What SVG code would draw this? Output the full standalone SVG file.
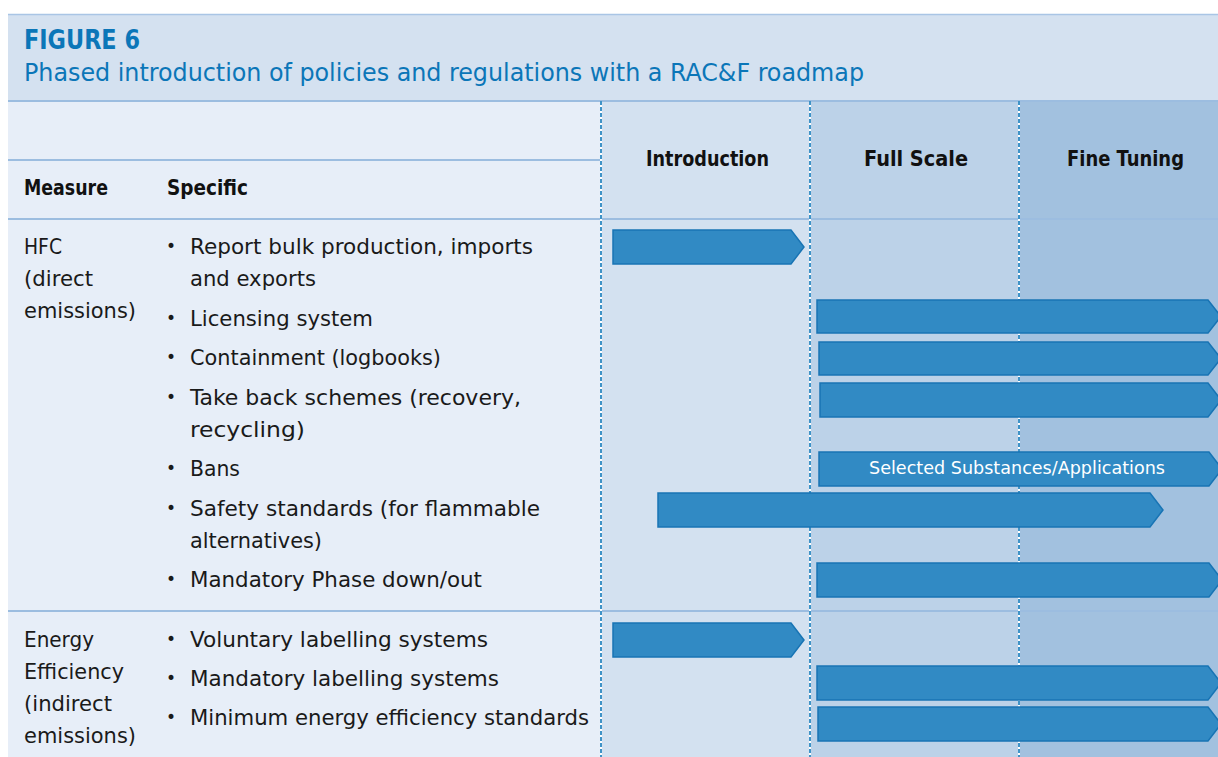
<svg xmlns="http://www.w3.org/2000/svg" width="1218" height="757" viewBox="0 0 1218 757">
<style>
.t{font-family:"DejaVu Sans Condensed","DejaVu Sans",sans-serif;font-size:20.5px;fill:#1a1a1a}
.b{font-weight:bold;fill:#111}
.ttl{font-family:"DejaVu Sans Condensed","DejaVu Sans",sans-serif;fill:#0b76b8}
.bul{font-family:"DejaVu Sans",sans-serif;font-size:17px;fill:#1a1a1a;text-anchor:middle}
.arr{fill:#318ac4;stroke:#1874b4;stroke-width:1.5;stroke-linejoin:miter}
.hl{stroke:#9cbde0;stroke-width:2;fill:none}
.vw{stroke:#ffffff;stroke-width:2}
.vd{stroke:#3f93c7;stroke-width:2;stroke-dasharray:4 2}
.ch{text-anchor:middle}
</style>
<rect width="1218" height="757" fill="#ffffff"/>
<g id="header">
<rect x="8" y="14" width="1210" height="87" fill="#d4e1f0"/>
<line x1="8" y1="14.5" x2="1218" y2="14.5" stroke="#a9c5e5" stroke-width="1.5"/>
<text class="ttl" x="24" y="49" font-size="27" font-weight="bold" textLength="116" lengthAdjust="spacingAndGlyphs">FIGURE 6</text>
<text class="ttl" x="24" y="81" font-size="24" textLength="840" lengthAdjust="spacingAndGlyphs">Phased introduction of policies and regulations with a RAC&amp;F roadmap</text>
</g>
<g id="background">
<rect x="8" y="101" width="593" height="656" fill="#e7eef8"/>
<rect x="601" y="101" width="209" height="656" fill="#d3e1f0"/>
<rect x="810" y="101" width="209" height="656" fill="#bcd2e8"/>
<rect x="1019" y="101" width="199" height="656" fill="#a2c1df"/>
</g>
<g id="gridlines">
<line class="hl" x1="8" y1="101" x2="1218" y2="101"/>
<line class="hl" x1="8" y1="160" x2="601" y2="160"/>
<line class="hl" x1="8" y1="219" x2="1218" y2="219"/>
<line class="hl" x1="8" y1="611" x2="1218" y2="611"/>
<line class="vw" x1="601" y1="101" x2="601" y2="757"/>
<line class="vd" x1="601" y1="101" x2="601" y2="757"/>
<line class="vw" x1="810" y1="101" x2="810" y2="757"/>
<line class="vd" x1="810" y1="101" x2="810" y2="757"/>
<line class="vw" x1="1019" y1="101" x2="1019" y2="757"/>
<line class="vd" x1="1019" y1="101" x2="1019" y2="757"/>
</g>
<g id="column-headers">
<text class="t b" x="24" y="195" textLength="84" lengthAdjust="spacingAndGlyphs">Measure</text>
<text class="t b" x="167" y="195" textLength="81" lengthAdjust="spacingAndGlyphs">Specific</text>
<text class="t b ch" x="707.5" y="166" textLength="123" lengthAdjust="spacingAndGlyphs">Introduction</text>
<text class="t b ch" x="916" y="166" textLength="104" lengthAdjust="spacingAndGlyphs">Full Scale</text>
<text class="t b ch" x="1125.5" y="166" textLength="117" lengthAdjust="spacingAndGlyphs">Fine Tuning</text>
</g>
<g id="measure-hfc">
<text class="t" x="24" y="254" textLength="38" lengthAdjust="spacingAndGlyphs">HFC</text>
<text class="t" x="24" y="286" textLength="69" lengthAdjust="spacingAndGlyphs">(direct</text>
<text class="t" x="24" y="318" textLength="112" lengthAdjust="spacingAndGlyphs">emissions)</text>
</g>
<g id="specific-hfc">
<text class="bul" x="171" y="252">•</text>
<text class="t" x="190" y="254" textLength="343" lengthAdjust="spacingAndGlyphs">Report bulk production, imports</text>
<text class="t" x="190" y="286" textLength="126" lengthAdjust="spacingAndGlyphs">and exports</text>
<text class="bul" x="171" y="324">•</text>
<text class="t" x="190" y="326" textLength="183" lengthAdjust="spacingAndGlyphs">Licensing system</text>
<text class="bul" x="171" y="363">•</text>
<text class="t" x="190" y="365" textLength="251" lengthAdjust="spacingAndGlyphs">Containment (logbooks)</text>
<text class="bul" x="171" y="403">•</text>
<text class="t" x="190" y="405" textLength="331" lengthAdjust="spacingAndGlyphs">Take back schemes (recovery,</text>
<text class="t" x="190" y="437" textLength="115" lengthAdjust="spacingAndGlyphs">recycling)</text>
<text class="bul" x="171" y="474">•</text>
<text class="t" x="190" y="476" textLength="50" lengthAdjust="spacingAndGlyphs">Bans</text>
<text class="bul" x="171" y="514">•</text>
<text class="t" x="190" y="516" textLength="350" lengthAdjust="spacingAndGlyphs">Safety standards (for flammable</text>
<text class="t" x="190" y="548" textLength="132" lengthAdjust="spacingAndGlyphs">alternatives)</text>
<text class="bul" x="171" y="585">•</text>
<text class="t" x="190" y="587" textLength="292" lengthAdjust="spacingAndGlyphs">Mandatory Phase down/out</text>
</g>
<g id="measure-energy">
<text class="t" x="24" y="647" textLength="70" lengthAdjust="spacingAndGlyphs">Energy</text>
<text class="t" x="24" y="679" textLength="100" lengthAdjust="spacingAndGlyphs">Efficiency</text>
<text class="t" x="24" y="711" textLength="88" lengthAdjust="spacingAndGlyphs">(indirect</text>
<text class="t" x="24" y="743" textLength="112" lengthAdjust="spacingAndGlyphs">emissions)</text>
</g>
<g id="specific-energy">
<text class="bul" x="171" y="645">•</text>
<text class="t" x="190" y="647" textLength="298" lengthAdjust="spacingAndGlyphs">Voluntary labelling systems</text>
<text class="bul" x="171" y="684">•</text>
<text class="t" x="190" y="686" textLength="309" lengthAdjust="spacingAndGlyphs">Mandatory labelling systems</text>
<text class="bul" x="171" y="723">•</text>
<text class="t" x="190" y="725" textLength="399" lengthAdjust="spacingAndGlyphs">Minimum energy efficiency standards</text>
</g>
<g id="connectors">
<polygon class="arr" points="613,230 791,230 804,247 791,264 613,264"/>
<polygon class="arr" points="817,300 1208,300 1221,316.5 1208,333 817,333"/>
<polygon class="arr" points="819,342 1208,342 1221,358.5 1208,375 819,375"/>
<polygon class="arr" points="820,383 1208,383 1221,400 1208,417 820,417"/>
<polygon class="arr" points="819,452 1209,452 1222,469 1209,486 819,486"/>
<text x="1017" y="474" font-family="'DejaVu Sans Condensed','DejaVu Sans',sans-serif" font-size="17" fill="#ffffff" text-anchor="middle" textLength="296" lengthAdjust="spacingAndGlyphs">Selected Substances/Applications</text>
<polygon class="arr" points="658,493 1150,493 1163,510 1150,527 658,527"/>
<polygon class="arr" points="817,563 1209,563 1222,580 1209,597 817,597"/>
<polygon class="arr" points="613,623 791,623 804,640 791,657 613,657"/>
<polygon class="arr" points="817,666 1208,666 1221,683 1208,700 817,700"/>
<polygon class="arr" points="818,707 1208,707 1221,724 1208,741 818,741"/>
</g>
</svg>
